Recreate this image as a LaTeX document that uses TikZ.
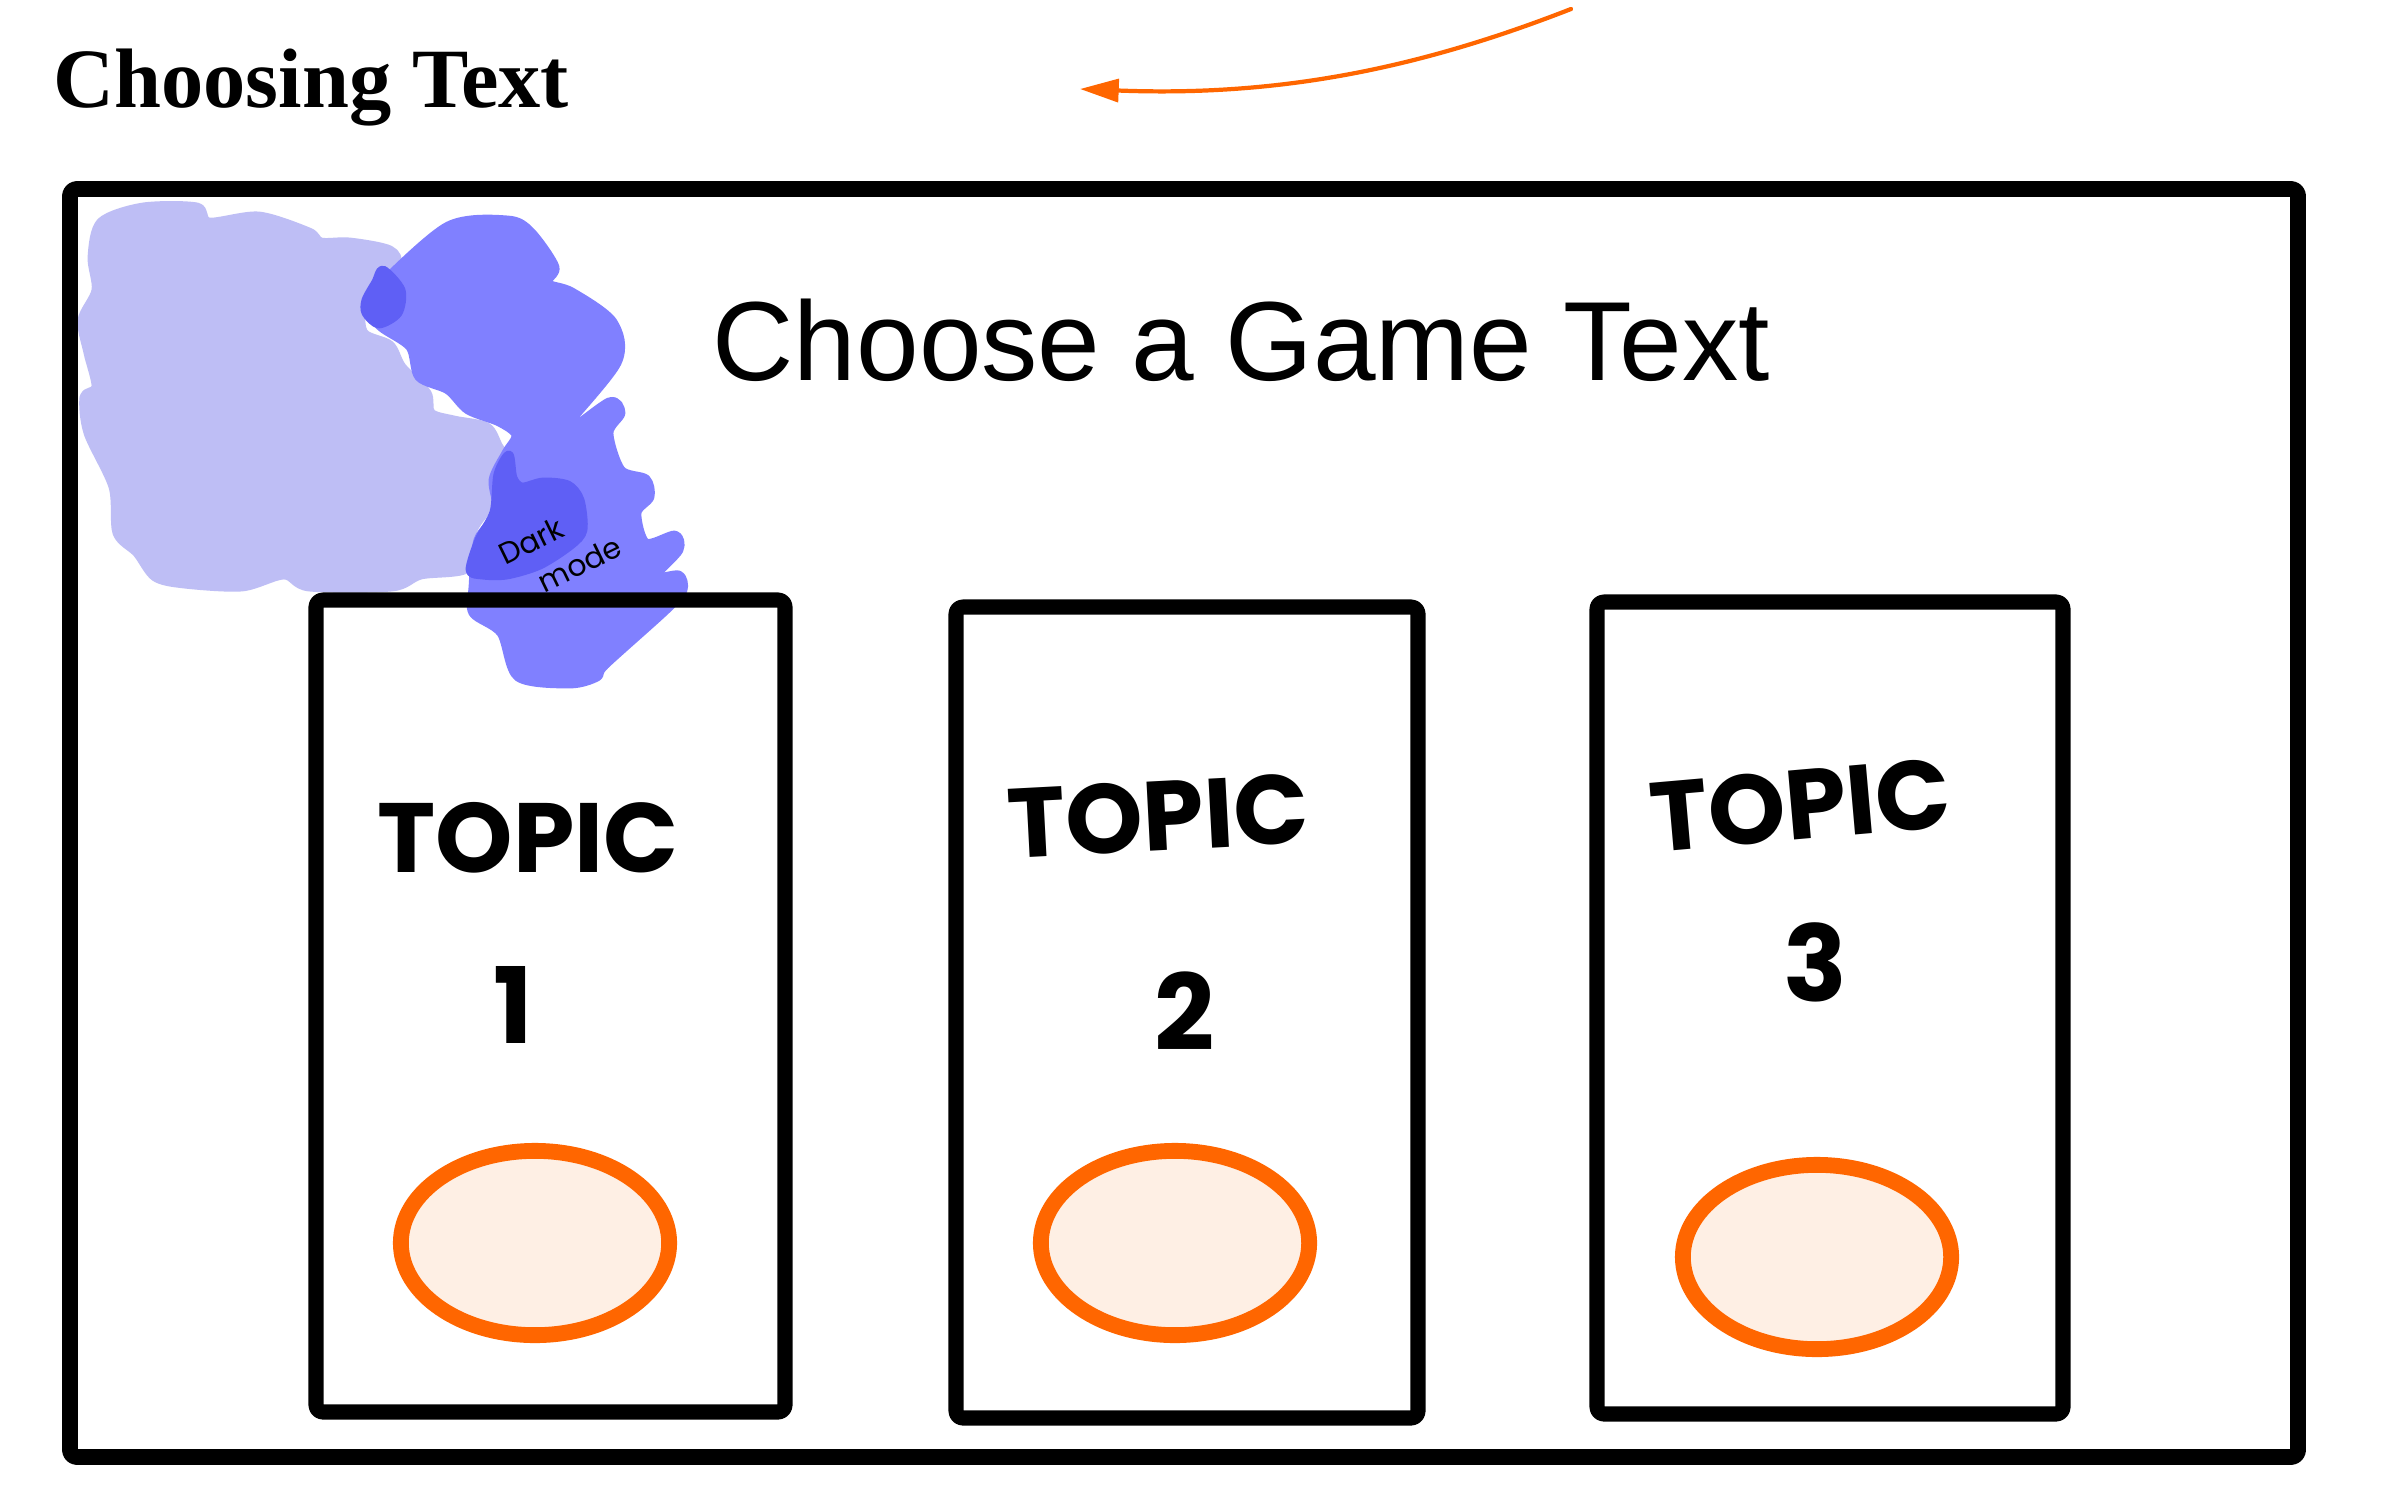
\documentclass[tikz,border=0pt]{standalone}
\usepackage{fontspec}
\setmainfont{Liberation Serif}
\newfontfamily\uisans{Liberation Sans}
\newfontfamily\handfont{Poppins}
\usetikzlibrary{arrows.meta,shapes.geometric}
\definecolor{blobLight}{RGB}{190,190,245}
\definecolor{blobMid}{RGB}{128,128,255}
\definecolor{blobDark}{RGB}{95,95,245}
\definecolor{accOrange}{RGB}{255,102,0}
\definecolor{accFill}{RGB}{254,239,228}
\tikzset{
  frame/.style={draw=black, line width=4.5pt, line join=round, rounded corners=2pt},
  cardbox/.style={draw=black, line width=4.3pt, line join=round, rounded corners=2pt},
  btn/.style={ellipse, draw=accOrange, fill=accFill, line width=4.5pt, inner sep=0pt,
              minimum width=76.3pt, minimum height=52.4pt},
  topiclbl/.style={font=\handfont\bfseries\fontsize{28}{32}\selectfont, inner sep=0pt},
  numlbl/.style={font=\handfont\bfseries\fontsize{30}{34}\selectfont, inner sep=0pt},
  smallhand/.style={font=\handfont\fontsize{8.5}{12}\selectfont, inner sep=0pt, rotate=26, align=left},
  blobfill/.style={fill=#1, draw=#1, line width=2.5pt, line join=round},
  flowarrow/.style={draw=accOrange, line width=1.2pt, line cap=round,
              -{Triangle[length=11pt,width=6.5pt]}}
}
\begin{document}
\begin{tikzpicture}[x=0.01cm,y=-0.01cm]
\useasboundingbox[fill=white] (0,0) rectangle (2386,1491);

% title
\node[anchor=base west, inner sep=0pt, font=\bfseries\fontsize{24}{28}\selectfont] (title) at (53,107) {Choosing Text};

% orange arrow
\coordinate (arrS) at (1571,9);
\coordinate (arrE) at (1080,89);
\draw[flowarrow] (arrS) .. controls (1420,68) and (1280,97) .. (arrE);

% light lavender blob
\path[blobfill=blobLight] plot[smooth cycle, tension=0.5] coordinates {
 (101,222) (143,207) (197,207) (209,222) (259,216) (309,232) (321,242) (350,242)
 (390,250) (396,267) (364,307) (364,333) (390,345) (402,367) (427,393) (431,413)
 (454,420) (487,427) (499,447) (512,467) (497,497) (473,530) (468,568) (421,575)
 (392,587) (309,587) (284,575) (242,587) (184,584) (155,577) (137,553) (117,533)
 (113,487) (88,433) (84,397) (96,387) (88,353) (82,320) (96,290) (92,257)};

% medium blue band
\path[blobfill=blobMid] plot[smooth cycle, tension=0.5] coordinates {
 (448,226) (508,220) (531,232) (555,267) (547,283) (572,292) (613,322) (617,363)
 (558,437) (609,402) (621,413) (609,433) (621,470) (646,479) (650,497) (637,513)
 (646,543) (675,535) (679,550) (655,577) (679,575) (683,590) (666,610) (605,665)
 (597,677) (570,684) (518,677) (501,633) (473,613) (473,587) (478,540) (497,513)
 (493,480) (506,453) (516,435) (499,422) (468,410) (448,390) (419,377) (410,347)
 (381,327) (366,307) (378,287)};

% dark overlaps
\path[blobfill=blobDark] plot[smooth cycle, tension=0.5] coordinates {
 (383,270) (401,290) (398,313) (379,324) (366,313) (366,300) (376,282)};
\path[blobfill=blobDark] plot[smooth cycle, tension=0.5] coordinates {
 (470,570) (479,540) (494,512) (498,474) (509,455) (513,478) (522,487) (543,482)
 (568,485) (580,500) (583,530) (571,545) (540,565) (507,575) (482,575)};

\node[smallhand] (dm) at (560,550) {Dark\\\hspace*{6.5pt}mode};

% outer frame
\draw[frame] (70,189) rectangle (2298,1457);

% heading
\node[anchor=base west, inner sep=0pt, font=\uisans\fontsize{32}{38}\selectfont] (head) at (712,380) {Choose a Game Text};

% cards
\draw[cardbox] (316,600) rectangle (785,1412);
\draw[cardbox] (956,607) rectangle (1418,1418);
\draw[cardbox] (1597,602) rectangle (2063,1414);

\node[topiclbl] (t1) at (528,838) {TOPIC};
\node[topiclbl, rotate=3] (t2) at (1158,816) {TOPIC};
\node[topiclbl, rotate=5] (t3) at (1800,805) {TOPIC};

\node[numlbl] (n1) at (513,1005) {1};
\node[numlbl] (n2) at (1185,1011) {2};
\node[numlbl] (n3) at (1815,962) {3};

\node[btn] (b1) at (535,1243) {};
\node[btn] (b2) at (1175,1243) {};
\node[btn] (b3) at (1817,1257) {};
\end{tikzpicture}
\end{document}
